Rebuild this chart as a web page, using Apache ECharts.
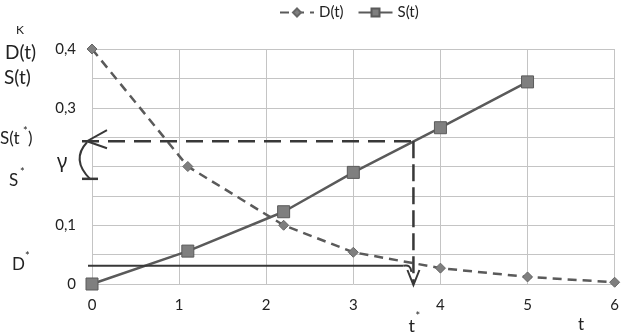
<!DOCTYPE html>
<html><head><meta charset="utf-8">
<script src="https://cdn.jsdelivr.net/npm/echarts@6/dist/echarts.min.js"></script>
<style>html,body{margin:0;padding:0;background:#fff}#c{width:622px;height:334px}</style>
</head><body><div id="c"></div>
<script>
// ---- data ----
const dT = [0, 1.1, 2.2, 3, 4, 5, 6];
const dVals = [0.4, 0.2, 0.1, 0.054, 0.027, 0.012, 0.003];
const sT = [0, 1.1, 2.2, 3, 4, 5];
const sVals = [0, 0.056, 0.123, 0.19, 0.266, 0.344];
const yTickLabels = [0, 0.1, 0.3, 0.4];
const tStar = 3.69;
const sOfTStar = 0.243;
const sStar = 0.179;
const dStar = 0.031;
const seriesNames = ['D(t)', 'S(t)'];

const FONT = 'Lato, "Open Sans", sans-serif';
const chart = echarts.init(document.getElementById('c'), null, {renderer: 'canvas'});
const dData = dT.map((t, i) => [t, dVals[i]]);
const sData = sT.map((t, i) => [t, sVals[i]]);

chart.setOption({
  animation: false,
  textStyle: {fontFamily: FONT},
  legend: {
    left: 274, top: 0, itemWidth: 34, itemHeight: 10, itemGap: 14,
    textStyle: {fontSize: 15, color: '#222', fontFamily: FONT},
    data: seriesNames
  },
  grid: {left: 92, right: 5, top: 49, bottom: 50},
  xAxis: {
    type: 'value', min: 0, max: 6, interval: 1,
    axisLine: {show: false}, axisTick: {show: false},
    splitLine: {show: true, lineStyle: {color: '#c4c4c4', width: 1}},
    axisLabel: {fontSize: 15, color: '#222', margin: 14, fontFamily: FONT}
  },
  yAxis: {
    type: 'value', min: 0, max: 0.4, interval: 0.05,
    axisLine: {show: false}, axisTick: {show: false},
    splitLine: {show: true, lineStyle: {color: '#c4c4c4', width: 1}},
    axisLabel: {
      fontSize: 15, color: '#222', margin: 16, fontFamily: FONT,
      formatter: v => {
        const r = Math.round(v * 100) / 100;
        if (yTickLabels.some(x => Math.abs(x - r) < 1e-6)) return r === 0 ? '0' : String(r).replace('.', ',');
        return '';
      }
    }
  },
  series: [
    {
      name: seriesNames[0], type: 'line', data: dData,
      symbol: 'diamond', symbolSize: 10,
      lineStyle: {color: '#5a5a5a', width: 2.5, type: [9, 6]},
      itemStyle: {color: '#7f7f7f', borderColor: '#666', borderWidth: 1}
    },
    {
      name: seriesNames[1], type: 'line', data: sData,
      symbol: 'rect', symbolSize: 12,
      lineStyle: {color: '#5a5a5a', width: 2.5},
      itemStyle: {color: '#7f7f7f', borderColor: '#5a5a5a', borderWidth: 1}
    }
  ]
});

const p = (t, v) => chart.convertToPixel({gridIndex: 0}, [t, v]);
const x0 = p(0, 0)[0], y0 = p(0, 0)[1];
const xt = p(tStar, 0)[0];
const ySt = p(0, sOfTStar)[1];
const yS = p(0, sStar)[1];
const yD = p(0, dStar)[1];
const dark = '#383838';

function txt(x, y, text, size, extra) {
  return Object.assign({type: 'text', x: x, y: y, z: 100,
    style: {text: text, fontSize: size, fill: '#222', fontFamily: FONT, textAlign: 'left', textVerticalAlign: 'middle'}}, extra || {});
}

const graphics = [
  {type: 'line', z: 50, shape: {x1: x0 - 10, y1: ySt, x2: xt + 1, y2: ySt},
   style: {stroke: dark, lineWidth: 2.5, lineDash: [17, 9]}},
  {type: 'line', z: 50, shape: {x1: xt, y1: ySt, x2: xt, y2: y0},
   style: {stroke: dark, lineWidth: 2.5, lineDash: [17, 6]}},
  {type: 'polyline', z: 50, shape: {points: [[xt - 6, y0 - 14], [xt, y0 + 1], [xt + 6, y0 - 14]]},
   style: {stroke: dark, lineWidth: 2, fill: null}},
  {type: 'line', z: 50, shape: {x1: x0 - 4, y1: yD, x2: xt - 10, y2: yD},
   style: {stroke: dark, lineWidth: 2}},
  {type: 'bezierCurve', z: 50, shape: {x1: xt - 10, y1: yD, cpx1: xt - 3, cpy1: yD - 2, x2: xt - 2, y2: yD + 6},
   style: {stroke: dark, lineWidth: 2, fill: null}},
  {type: 'polyline', z: 50, shape: {points: [[x0 + 15, ySt - 11], [x0 - 5, ySt], [x0 + 15, ySt + 7]]},
   style: {stroke: dark, lineWidth: 2, fill: null}},
  {type: 'bezierCurve', z: 50, shape: {x1: x0 - 5, y1: ySt + 1, cpx1: x0 - 18, cpy1: ySt + 15, cpx2: x0 - 12, cpy2: yS - 10, x2: x0 - 2, y2: yS},
   style: {stroke: dark, lineWidth: 2, fill: null}},
  {type: 'line', z: 50, shape: {x1: x0 - 10, y1: yS, x2: x0 + 6, y2: yS},
   style: {stroke: dark, lineWidth: 2.5}},
  txt(16, 30, 'K', 12),
  txt(5, 53, 'D(t)', 19),
  txt(4, 78, 'S(t)', 19),
  txt(0, 139, 'S(t', 17),
  txt(23, 131, '*', 11),
  txt(28, 139, ')', 17),
  txt(57, 162, 'γ', 20, {style: {text: 'γ', fontSize: 20, fill: '#222', fontFamily: '"Noto Sans", sans-serif', textVerticalAlign: 'middle'}}),
  txt(9, 181, 'S', 17),
  txt(20, 172, '*', 11),
  txt(12, 265, 'D', 17),
  txt(25, 256, '*', 11),
  txt(xt - 5, 326, 't', 18),
  txt(xt + 2, 316, '*', 11),
  txt(p(5.58, 0)[0], 325, 't', 17)
];
chart.setOption({graphic: graphics});
</script></body></html>
